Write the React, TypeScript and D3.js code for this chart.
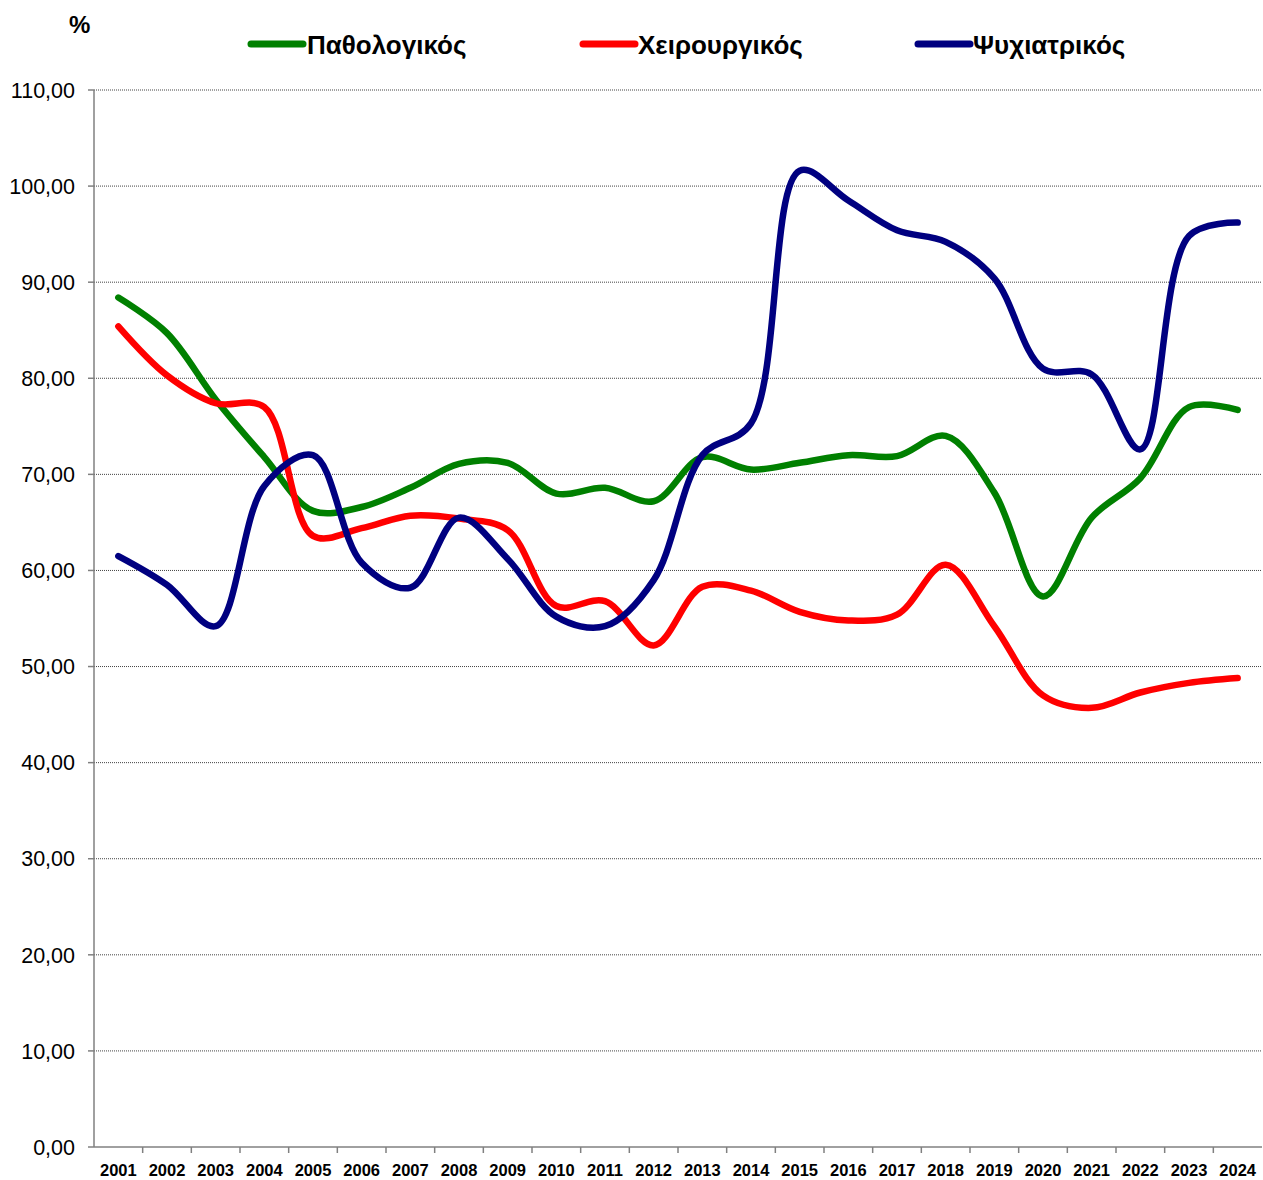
import React from "react";
import * as d3 from "d3";

const years = [
  "2001","2002","2003","2004","2005","2006","2007","2008","2009","2010","2011","2012",
  "2013","2014","2015","2016","2017","2018","2019","2020","2021","2022","2023","2024",
];

const pathologikos = [
  88.4, 84.7, 77.8, 71.8, 66.2, 66.6, 68.6, 71.1, 71.2, 68.0, 68.6, 67.2,
  71.8, 70.5, 71.2, 72.0, 71.9, 74.0, 68.1, 57.3, 65.5, 69.6, 77.0, 76.7,
];

const xeirourgikos = [
  85.4, 80.3, 77.4, 77.0, 63.6, 64.4, 65.7, 65.4, 64.2, 56.3, 56.8, 52.2,
  58.3, 57.9, 55.7, 54.8, 55.4, 60.6, 54.2, 47.0, 45.7, 47.3, 48.3, 48.8,
];

const psyxiatrikos = [
  61.5, 58.5, 54.2, 68.8, 72.0, 60.8, 58.2, 65.5, 61.2, 55.2, 54.2, 59.0,
  72.0, 75.3, 101.6, 98.5, 95.4, 94.2, 90.4, 81.0, 80.4, 72.6, 94.8, 96.2,
];

const yTicks = [0, 10, 20, 30, 40, 50, 60, 70, 80, 90, 100, 110];

const series = [
  { name: "Παθολογικός", values: pathologikos, color: "#008000" },
  { name: "Χειρουργικός", values: xeirourgikos, color: "#FF0000" },
  { name: "Ψυχιατρικός", values: psyxiatrikos, color: "#000080" },
];

const legendPos = [
  { lx: 248, tx: 307 },
  { lx: 580, tx: 638 },
  { lx: 915, tx: 973 },
];

export default function App() {
  const W = 1263;
  const H = 1180;
  const left = 94;
  const right = 1262;
  const top = 90;
  const bottom = 1147;

  const x = d3.scaleBand<string>().domain(years).range([left, right]).padding(0);
  const y = d3.scaleLinear().domain([0, 110]).range([bottom, top]);
  const bw = x.bandwidth();
  const fmt = (v: number) => d3.format(".2f")(v).replace(".", ",");

  const line = d3
    .line<number>()
    .x((_, i) => (x(years[i]) as number) + bw / 2)
    .y((d) => y(d))
    .curve(d3.curveCatmullRom.alpha(0.5));

  return (
    <svg width={W} height={H} style={{ position: "absolute", left: 0, top: 0, background: "#fff" }}>
      <rect x={0} y={0} width={W} height={H} fill="#fff" />
      {yTicks.filter((t) => t > 0).map((t) => (
        <line key={"g" + t} x1={left} x2={right} y1={y(t)} y2={y(t)} stroke="#444" strokeWidth={1} strokeDasharray="1,1" />
      ))}
      <line x1={left} x2={left} y1={top} y2={bottom} stroke="#808080" strokeWidth={1.5} />
      {yTicks.map((t) => (
        <g key={"yt" + t}>
          <line x1={left - 6} x2={left} y1={y(t)} y2={y(t)} stroke="#808080" strokeWidth={1.5} />
          <text x={75} y={y(t)} dy="0.36em" textAnchor="end" fontFamily="Liberation Sans, Arial, sans-serif" fontSize={21.5} fill="#000">
            {fmt(t)}
          </text>
        </g>
      ))}
      <line x1={left} x2={right} y1={bottom} y2={bottom} stroke="#808080" strokeWidth={1.5} />
      {years.map((yr, i) => (
        <g key={"xt" + yr}>
          {i > 0 && (
            <line x1={x(yr) as number} x2={x(yr) as number} y1={bottom} y2={bottom + 6} stroke="#808080" strokeWidth={1.5} />
          )}
          <text x={(x(yr) as number) + bw / 2} y={1176} textAnchor="middle" fontFamily="Liberation Sans, Arial, sans-serif" fontWeight="bold" fontSize={16.5} fill="#000">
            {yr}
          </text>
        </g>
      ))}
      {series.map((s) => (
        <path key={s.name} d={line(s.values) || ""} fill="none" stroke={s.color} strokeWidth={6.5} strokeLinecap="round" strokeLinejoin="round" />
      ))}
      {series.map((s, i) => (
        <g key={"lg" + s.name}>
          <line x1={legendPos[i].lx + 3} x2={legendPos[i].lx + 55} y1={44} y2={44} stroke={s.color} strokeWidth={7} strokeLinecap="round" />
          <text x={legendPos[i].tx} y={45} dy="0.35em" fontFamily="Liberation Sans, Arial, sans-serif" fontWeight="bold" fontSize={26} fill="#000">
            {s.name}
          </text>
        </g>
      ))}
      <text x={69} y={25} dy="0.35em" fontFamily="Liberation Sans, Arial, sans-serif" fontWeight="bold" fontSize={24} fill="#000">
        %
      </text>
    </svg>
  );
}
